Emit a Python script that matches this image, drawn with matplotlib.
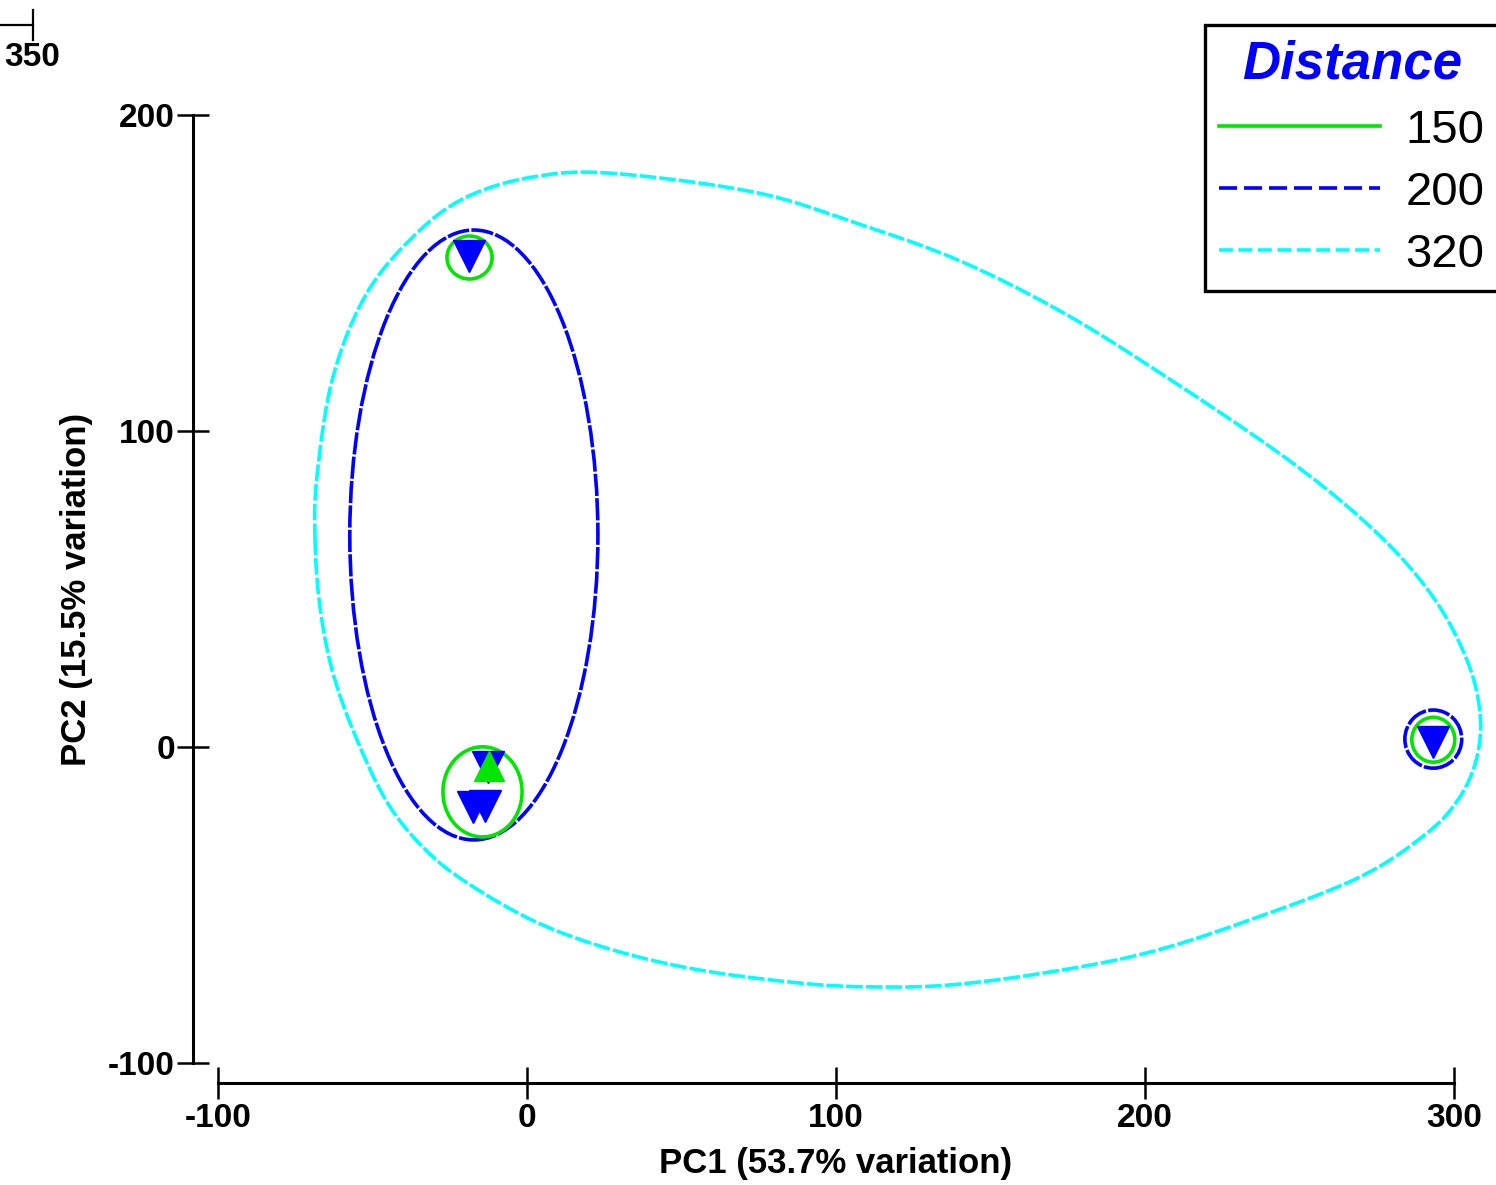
import numpy as np
import matplotlib
matplotlib.use("Agg")
import matplotlib.pyplot as plt
from matplotlib.patches import Ellipse
from matplotlib.lines import Line2D

plt.rcParams['font.family'] = ['Liberation Sans', 'DejaVu Sans']
plt.rcParams['lines.scale_dashes'] = False

# ---------------- data ----------------
# sample scores (PC1, PC2)
pc1_down = [-18.8, -12.6, -17.5, -13.6, 293.2]
pc2_down = [155.4, -6.3, -19.0, -18.7, 1.6]
pc1_up = [-12.3]
pc2_up = [-6.0]

# cluster overlays at distance 150 (green): centre x, centre y, width, height
g150_x = [-18.6, -14.4, 293.3]
g150_y = [154.9, -14.2, 2.3]
g150_w = [14.6, 25.6, 13.9]
g150_h = [13.6, 28.5, 14.2]

# cluster overlays at distance 200 (blue)
g200_x = [-17.2, 293.3]
g200_y = [67.1, 2.5]
g200_w = [80.3, 18.4]
g200_h = [193.0, 18.4]

# cluster overlay at distance 320 (cyan), outline
g320_x = [-68.6, -68.0, -62.8, -51.8, -35.6, -19.4, 1.9, 26.9, 73.5, 106.5,
          139.5, 172.5, 205.5, 246.9, 275.1, 293.2, 304.2, 308.4, 307.4, 301.9,
          291.3, 269.6, 234.0, 201.6, 169.3, 136.9, 111.0, 88.3, 56.0, 29.1,
          5.5, -14.2, -30.4, -44.3, -55.0, -62.8, -67.0]
g320_y = [65.5, 85.4, 117.1, 143.7, 162.7, 174.1, 180.4, 181.6, 175.6, 165.8,
          154.1, 138.0, 118.0, 90.5, 67.7, 47.5, 27.5, 10.8, -3.2, -15.8,
          -27.2, -41.1, -54.7, -64.9, -71.2, -75.3, -75.9, -74.7, -70.6, -64.6,
          -56.5, -46.2, -34.8, -19.0, 2.2, 23.4, 44.3]

legend_labels = ['150', '200', '320']
legend_title = 'Distance'
x_ticks = [-100, 0, 100, 200, 300]
y_ticks = [-100, 0, 100, 200]

# ---------------- style ----------------
C_GREEN = '#00E600'
C_BLUE = '#0000FF'
C_CYAN = '#00FFFF'
LW = 2.6
DASH_BLUE = (0, (16, 1.6))
DASH_CYAN = (0, (12, 2.2))


def closed_smooth(xs, ys, n=24):
    P = np.column_stack([xs, ys]).astype(float)
    N = len(P)
    t = np.linspace(0, 1, n, endpoint=False)[:, None]
    segs = []
    for i in range(N):
        p0, p1, p2, p3 = P[(i - 1) % N], P[i], P[(i + 1) % N], P[(i + 2) % N]
        segs.append(0.5 * (2 * p1 + (-p0 + p2) * t
                           + (2 * p0 - 5 * p1 + 4 * p2 - p3) * t ** 2
                           + (-p0 + 3 * p1 - 3 * p2 + p3) * t ** 3))
    out = np.vstack(segs)
    out = np.vstack([out, out[:1]])
    return out[:, 0], out[:, 1]


W, H = 1496, 1185
fig = plt.figure(figsize=(W / 100, H / 100), dpi=100)
ax = fig.add_axes([218 / W, (H - 1063) / H, (1454 - 218) / W, (1063 - 115) / H])
ax.set_xlim(-100, 300)
ax.set_ylim(-100, 200)

# overlays
cx, cy = closed_smooth(g320_x, g320_y)
ax.plot(cx, cy, color=C_CYAN, lw=LW, linestyle=DASH_CYAN, clip_on=False, zorder=2)
for x, y, w, h in zip(g200_x, g200_y, g200_w, g200_h):
    e = Ellipse((x, y), w, h, fill=False, edgecolor=C_BLUE, lw=LW,
                linestyle=DASH_BLUE, clip_on=False, zorder=3)
    ax.add_patch(e)
for x, y, w, h in zip(g150_x, g150_y, g150_w, g150_h):
    e = Ellipse((x, y), w, h, fill=False, edgecolor=C_GREEN, lw=LW,
                clip_on=False, zorder=4)
    ax.add_patch(e)

# points
ax.plot(pc1_down, pc2_down, linestyle='none', marker='v', ms=23, color=C_BLUE,
        mec=C_BLUE, clip_on=False, zorder=5)
ax.plot(pc1_up, pc2_up, linestyle='none', marker='^', ms=22, color=C_GREEN,
        mec=C_GREEN, clip_on=False, zorder=6)

# axes styling
for s in ['top', 'right']:
    ax.spines[s].set_visible(False)
ax.spines['left'].set_position(('outward', 18))
ax.spines['bottom'].set_position(('outward', 14.4))
ax.spines['left'].set_bounds(-100, 200)
ax.spines['bottom'].set_bounds(-100, 300)
ax.spines['left'].set_linewidth(2.2)
ax.spines['bottom'].set_linewidth(2.2)
ax.set_xticks(x_ticks)
ax.set_yticks(y_ticks)
ax.set_xticklabels([str(v) for v in x_ticks])
ax.set_yticklabels([str(v) for v in y_ticks])
ax.tick_params(axis='both', direction='inout', length=23, width=1.8,
               labelsize=24)
ax.tick_params(axis='x', pad=3)
ax.tick_params(axis='y', pad=1.5)
for lab in ax.get_xticklabels() + ax.get_yticklabels():
    lab.set_fontweight('bold')
ax.set_xlabel('PC1 (53.7% variation)', fontsize=25, fontweight='bold', labelpad=9)
ax.set_ylabel('PC2 (15.5% variation)', fontsize=25, fontweight='bold', labelpad=11)

# legend
handles = [Line2D([], [], color=C_GREEN, lw=LW),
           Line2D([], [], color=C_BLUE, lw=LW, linestyle=(0, (13, 5))),
           Line2D([], [], color=C_CYAN, lw=LW, linestyle=(0, (10, 4)))]
leg = fig.legend(handles, legend_labels, title=legend_title,
                 loc='upper left', bbox_to_anchor=(1205 / W, 1 - 25 / H),
                 fontsize=34, handlelength=3.4, handletextpad=0.55,
                 borderpad=0.3, labelspacing=0.38, fancybox=False,
                 frameon=True, framealpha=1, borderaxespad=0)
leg.get_frame().set_edgecolor('black')
leg.get_frame().set_linewidth(2.4)
t = leg.get_title()
t.set_fontsize(38)
t.set_fontweight('bold')
t.set_fontstyle('italic')
t.set_color(C_BLUE)
leg._legend_box.sep = 14

# stray axis fragment at top-left
fig.add_artist(Line2D([0, 33 / W], [1 - 25 / H, 1 - 25 / H], color='black',
                      lw=1.6, transform=fig.transFigure))
fig.add_artist(Line2D([33 / W, 33 / W], [1 - 10 / H, 1 - 40 / H], color='black',
                      lw=1.6, transform=fig.transFigure))
fig.text(32 / W, 1 - 58 / H, '350', fontsize=24, fontweight='bold',
         ha='center', va='center')

fig.savefig('out.png', dpi=100)
